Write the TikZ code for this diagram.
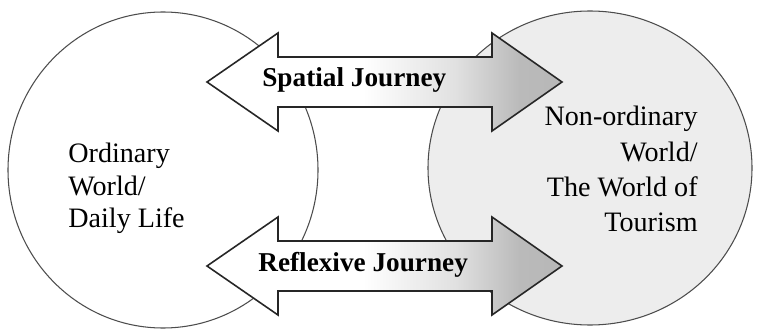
\documentclass[tikz,border=0pt]{standalone}
\usepackage{fontspec}
\setmainfont{Liberation Serif}
\usetikzlibrary{shapes.geometric}
\pgfdeclarehorizontalshading{journeyshade}{100bp}{color(0bp)=(white); color(47bp)=(white); color(60bp)=(black!12); color(69bp)=(black!27); color(100bp)=(black!33)}
\tikzset{
  world/.style={ellipse, draw=black!70, line width=0.6pt, inner sep=0pt},
  journey/.style={draw=black!85, line width=0.9pt, shading=journeyshade, line join=miter},
  worldtext/.style={font=\fontsize{16}{18.5}\selectfont, inner sep=0pt},
  journeytext/.style={font=\fontsize{15.5}{18}\selectfont\bfseries, inner sep=0pt, anchor=base west}
}
\begin{document}
\begin{tikzpicture}[x=0.2mm, y=-0.2mm]
\useasboundingbox (0,0) rectangle (757,331);
% the two worlds
\node[world, fill=black!7, minimum width=64.8mm, minimum height=62.8mm] (tourism) at (590,168) {};
\node[world, fill=white, minimum width=62mm, minimum height=63.2mm] (daily) at (163,170) {};
% journeys between them
\foreach \y/\nm/\lab/\lx in {82/spatial/Spatial Journey/262, 266/reflexive/Reflexive Journey/258}
{
  \shadedraw[journey] (207,\y) -- (278,\y-49) -- (278,\y-25) -- (492,\y-25) -- (492,\y-49)
    -- (562,\y) -- (492,\y+49) -- (492,\y+25) -- (278,\y+25) -- (278,\y+49) -- cycle;
  \node[journeytext] (\nm) at (\lx,\y+5) {\lab};
}
\node[worldtext, anchor=north west, align=left] (dailytext) at (68,143) {Ordinary\\World/\\Daily Life};
\node[worldtext, anchor=north east, align=right, font=\fontsize{16}{20}\selectfont] (tourismtext) at (698,106) {Non-ordinary\\World/\\The World of\\Tourism};
\end{tikzpicture}
\end{document}
